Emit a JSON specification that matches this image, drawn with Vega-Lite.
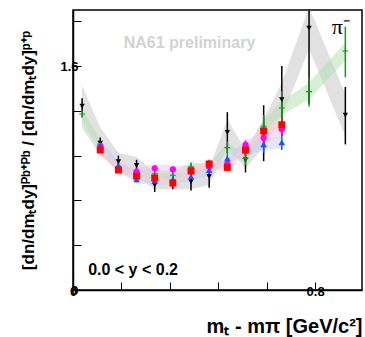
{
 "$schema": "https://vega.github.io/schema/vega-lite/v6.json",
 "width": 289, "height": 280,
 "autosize": "none",
 "padding": {"left": 73, "top": 10, "right": 3, "bottom": 47},
 "background": "white",
 "config": {"view": {"stroke": "black", "strokeWidth": 1.5}, "font": "Liberation Sans"},
 "data": {"values": [
  {"E":"20 AGeV/c","x":0.03,"y":1.314,"lo":1.27,"hi":1.37,"slo":1.16,"shi":1.46},
  {"E":"20 AGeV/c","x":0.09,"y":1.05,"lo":1.02,"hi":1.09,"slo":0.96,"shi":1.16},
  {"E":"20 AGeV/c","x":0.15,"y":0.917,"lo":0.88,"hi":0.96,"slo":0.86,"shi":0.98},
  {"E":"20 AGeV/c","x":0.21,"y":0.89,"lo":0.85,"hi":0.93,"slo":0.81,"shi":0.95},
  {"E":"20 AGeV/c","x":0.27,"y":0.75,"lo":0.70,"hi":0.80,"slo":0.72,"shi":0.84},
  {"E":"20 AGeV/c","x":0.33,"y":0.77,"lo":0.72,"hi":0.82,"slo":0.72,"shi":0.84},
  {"E":"20 AGeV/c","x":0.39,"y":0.774,"lo":0.71,"hi":0.83,"slo":0.72,"shi":0.84},
  {"E":"20 AGeV/c","x":0.45,"y":0.81,"lo":0.73,"hi":0.89,"slo":0.75,"shi":0.87},
  {"E":"20 AGeV/c","x":0.51,"y":1.126,"lo":0.98,"hi":1.27,"slo":1.02,"shi":1.22},
  {"E":"20 AGeV/c","x":0.57,"y":0.93,"lo":0.84,"hi":1.03,"slo":0.87,"shi":1.00},
  {"E":"20 AGeV/c","x":0.63,"y":1.12,"lo":0.92,"hi":1.32,"slo":1.02,"shi":1.22},
  {"E":"20 AGeV/c","x":0.69,"y":1.36,"lo":1.10,"hi":1.60,"slo":1.24,"shi":1.48},
  {"E":"20 AGeV/c","x":0.78,"y":1.87,"lo":1.33,"hi":2.40,"slo":1.72,"shi":2.02},
  {"E":"20 AGeV/c","x":0.90,"y":1.25,"lo":1.04,"hi":1.45,"slo":1.10,"shi":1.40},
  {"E":"31 AGeV/c","x":0.03,"y":1.257,"lo":1.23,"hi":1.28,"slo":1.21,"shi":1.30},
  {"E":"31 AGeV/c","x":0.09,"y":1.03,"lo":1.00,"hi":1.06,"slo":0.99,"shi":1.07},
  {"E":"31 AGeV/c","x":0.15,"y":0.87,"lo":0.85,"hi":0.89,"slo":0.84,"shi":0.90},
  {"E":"31 AGeV/c","x":0.21,"y":0.83,"lo":0.81,"hi":0.85,"slo":0.80,"shi":0.86},
  {"E":"31 AGeV/c","x":0.27,"y":0.83,"lo":0.81,"hi":0.85,"slo":0.80,"shi":0.86},
  {"E":"31 AGeV/c","x":0.33,"y":0.82,"lo":0.80,"hi":0.85,"slo":0.79,"shi":0.85},
  {"E":"31 AGeV/c","x":0.39,"y":0.88,"lo":0.86,"hi":0.91,"slo":0.85,"shi":0.91},
  {"E":"31 AGeV/c","x":0.45,"y":0.87,"lo":0.84,"hi":0.90,"slo":0.84,"shi":0.90},
  {"E":"31 AGeV/c","x":0.51,"y":1.017,"lo":0.97,"hi":1.06,"slo":0.98,"shi":1.05},
  {"E":"31 AGeV/c","x":0.57,"y":0.94,"lo":0.89,"hi":0.99,"slo":0.91,"shi":0.97},
  {"E":"31 AGeV/c","x":0.63,"y":1.17,"lo":1.08,"hi":1.25,"slo":1.13,"shi":1.21},
  {"E":"31 AGeV/c","x":0.69,"y":1.30,"lo":1.20,"hi":1.42,"slo":1.25,"shi":1.35},
  {"E":"31 AGeV/c","x":0.78,"y":1.417,"lo":1.31,"hi":1.52,"slo":1.36,"shi":1.48},
  {"E":"31 AGeV/c","x":0.90,"y":1.707,"lo":1.52,"hi":1.88,"slo":1.64,"shi":1.77},
  {"E":"40 AGeV/c","x":0.09,"y":1.03,"lo":1.01,"hi":1.05,"slo":0.99,"shi":1.07},
  {"E":"40 AGeV/c","x":0.15,"y":0.87,"lo":0.85,"hi":0.89,"slo":0.84,"shi":0.90},
  {"E":"40 AGeV/c","x":0.21,"y":0.845,"lo":0.82,"hi":0.87,"slo":0.81,"shi":0.88},
  {"E":"40 AGeV/c","x":0.27,"y":0.869,"lo":0.85,"hi":0.89,"slo":0.84,"shi":0.90},
  {"E":"40 AGeV/c","x":0.33,"y":0.862,"lo":0.84,"hi":0.88,"slo":0.83,"shi":0.89},
  {"E":"40 AGeV/c","x":0.39,"y":0.86,"lo":0.84,"hi":0.88,"slo":0.83,"shi":0.89},
  {"E":"40 AGeV/c","x":0.45,"y":0.88,"lo":0.86,"hi":0.90,"slo":0.85,"shi":0.91},
  {"E":"40 AGeV/c","x":0.51,"y":0.90,"lo":0.87,"hi":0.93,"slo":0.87,"shi":0.93},
  {"E":"40 AGeV/c","x":0.57,"y":1.036,"lo":1.00,"hi":1.07,"slo":1.00,"shi":1.07},
  {"E":"40 AGeV/c","x":0.63,"y":1.088,"lo":1.05,"hi":1.13,"slo":1.05,"shi":1.13},
  {"E":"40 AGeV/c","x":0.69,"y":1.148,"lo":1.10,"hi":1.20,"slo":1.10,"shi":1.19},
  {"E":"80 AGeV/c","x":0.09,"y":1.03,"lo":1.01,"hi":1.05,"slo":0.99,"shi":1.07},
  {"E":"80 AGeV/c","x":0.15,"y":0.886,"lo":0.87,"hi":0.91,"slo":0.85,"shi":0.92},
  {"E":"80 AGeV/c","x":0.21,"y":0.79,"lo":0.77,"hi":0.81,"slo":0.76,"shi":0.82},
  {"E":"80 AGeV/c","x":0.27,"y":0.78,"lo":0.76,"hi":0.80,"slo":0.75,"shi":0.81},
  {"E":"80 AGeV/c","x":0.33,"y":0.79,"lo":0.77,"hi":0.81,"slo":0.76,"shi":0.82},
  {"E":"80 AGeV/c","x":0.39,"y":0.81,"lo":0.79,"hi":0.83,"slo":0.78,"shi":0.84},
  {"E":"80 AGeV/c","x":0.45,"y":0.857,"lo":0.83,"hi":0.88,"slo":0.82,"shi":0.89},
  {"E":"80 AGeV/c","x":0.51,"y":0.94,"lo":0.91,"hi":0.97,"slo":0.90,"shi":0.98},
  {"E":"80 AGeV/c","x":0.57,"y":1.0,"lo":0.96,"hi":1.04,"slo":0.96,"shi":1.04},
  {"E":"80 AGeV/c","x":0.63,"y":1.04,"lo":0.98,"hi":1.09,"slo":1.00,"shi":1.08},
  {"E":"80 AGeV/c","x":0.69,"y":1.055,"lo":1.00,"hi":1.11,"slo":1.01,"shi":1.10},
  {"E":"158 AGeV/c","x":0.09,"y":1.0,"lo":0.98,"hi":1.02,"slo":0.97,"shi":1.03},
  {"E":"158 AGeV/c","x":0.15,"y":0.857,"lo":0.84,"hi":0.88,"slo":0.83,"shi":0.89},
  {"E":"158 AGeV/c","x":0.21,"y":0.814,"lo":0.79,"hi":0.84,"slo":0.79,"shi":0.84},
  {"E":"158 AGeV/c","x":0.27,"y":0.80,"lo":0.78,"hi":0.82,"slo":0.77,"shi":0.83},
  {"E":"158 AGeV/c","x":0.33,"y":0.764,"lo":0.74,"hi":0.79,"slo":0.74,"shi":0.79},
  {"E":"158 AGeV/c","x":0.39,"y":0.85,"lo":0.83,"hi":0.87,"slo":0.82,"shi":0.88},
  {"E":"158 AGeV/c","x":0.45,"y":0.90,"lo":0.87,"hi":0.93,"slo":0.87,"shi":0.93},
  {"E":"158 AGeV/c","x":0.51,"y":0.876,"lo":0.85,"hi":0.91,"slo":0.84,"shi":0.91},
  {"E":"158 AGeV/c","x":0.57,"y":1.0,"lo":0.97,"hi":1.03,"slo":0.97,"shi":1.03},
  {"E":"158 AGeV/c","x":0.63,"y":1.136,"lo":1.10,"hi":1.18,"slo":1.10,"shi":1.17},
  {"E":"158 AGeV/c","x":0.69,"y":1.18,"lo":1.14,"hi":1.23,"slo":1.14,"shi":1.22}
 ]},
 "layer": [
  {"mark": {"type": "area", "clip": true, "opacity": 0.5, "interpolate": "linear"},
   "encoding": {
    "x": {"field": "x", "type": "quantitative",
      "scale": {"domain": [0, 0.955], "nice": false, "zero": false},
      "axis": {
        "title": "mₜ - mπ [GeV/c²]",
        "values": [0,0.02,0.04,0.06,0.08,0.1,0.12,0.14,0.16,0.18,0.2,0.22,0.24,0.26,0.28,0.3,0.32,0.34,0.36,0.38,0.4,0.42,0.44,0.46,0.48,0.5,0.52,0.54,0.56,0.58,0.6,0.62,0.64,0.66,0.68,0.7,0.72,0.74,0.76,0.78,0.8,0.82,0.84,0.86,0.88,0.9,0.92,0.94],
        "labelExpr": "abs(datum.value*10-round(datum.value*10))<0.001 ? format(datum.value,'.1~f') : ''",
        "tickSize": -8,
        "encode": {"ticks": {"update": {"y2": {"signal": "abs(datum.value*10-round(datum.value*10))<0.001 ? -8 : -4"}}}},
        "tickColor": "black", "tickWidth": 1, "domainColor": "black", "domainWidth": 1.5, "grid": false,
        "labelFont": "Liberation Sans", "labelFontWeight": "bold", "labelFontSize": 13, "labelColor": "black",
        "labelPadding": 3, "labelOverlap": false, "labelFlush": false,
        "titleFont": "Liberation Sans", "titleFontWeight": "bold", "titleFontSize": 20, "titleColor": "black",
        "titleX": 289, "titleY": 42, "titleAlign": "right", "titleBaseline": "alphabetic", "titleAnchor": "end"
      }},
    "y": {"field": "slo", "type": "quantitative", "stack": null,
      "scale": {"domain": [0, 2], "nice": false, "zero": false},
      "axis": {
        "title": "[dn/dmₜdy]ᴾᵇ⁺ᴾᵇ / [dn/dmₜdy]ᵖ⁺ᵖ",
        "values": [0,0.04,0.08,0.12,0.16,0.2,0.24,0.28,0.32,0.36,0.4,0.44,0.48,0.52,0.56,0.6,0.64,0.68,0.72,0.76,0.8,0.84,0.88,0.92,0.96,1,1.04,1.08,1.12,1.16,1.2,1.24,1.28,1.32,1.36,1.4,1.44,1.48,1.52,1.56,1.6,1.64,1.68,1.72,1.76,1.8,1.84,1.88,1.92,1.96,2],
        "labelExpr": "abs(datum.value*5-round(datum.value*5))<0.001 ? format(datum.value,'.1~f') : ''",
        "tickSize": -8,
        "encode": {"ticks": {"update": {"x2": {"signal": "abs(datum.value*5-round(datum.value*5))<0.001 ? 8 : 4"}}}},
        "tickColor": "black", "tickWidth": 1, "domainColor": "black", "domainWidth": 1.5, "grid": false,
        "labelFont": "Liberation Sans", "labelFontWeight": "bold", "labelFontSize": 13, "labelColor": "black",
        "labelPadding": 3, "labelOverlap": false, "labelFlush": false,
        "titleFont": "Liberation Sans", "titleFontWeight": "bold", "titleFontSize": 17, "titleColor": "black",
        "titleX": -45, "titleY": 140, "titleAngle": 270, "titleAlign": "center", "titleBaseline": "middle"
      }},
    "y2": {"field": "shi"},
    "fill": {"field": "E", "type": "nominal",
      "scale": {"domain": ["20 AGeV/c","31 AGeV/c","40 AGeV/c","80 AGeV/c","158 AGeV/c"],
                "range": ["#c4c4c4","#b0e0b0","#f8c4f0","#c4cef8","#f8d0d0"]},
      "legend": null}
   }},
  {"mark": {"type": "rule", "clip": true, "strokeWidth": 1.5},
   "encoding": {
    "x": {"field": "x", "type": "quantitative"},
    "y": {"field": "lo", "type": "quantitative"},
    "y2": {"field": "hi"},
    "color": {"field": "E", "type": "nominal",
      "scale": {"domain": ["20 AGeV/c","31 AGeV/c","40 AGeV/c","80 AGeV/c","158 AGeV/c"],
                "range": ["#000000","#139913","#ff00ff","#2050ff","#ff0000"]},
      "legend": null}
   }},
  {"mark": {"type": "point", "filled": true, "opacity": 1},
   "encoding": {
    "x": {"field": "x", "type": "quantitative"},
    "y": {"field": "y", "type": "quantitative"},
    "color": {"field": "E", "type": "nominal",
      "scale": {"domain": ["20 AGeV/c","31 AGeV/c","40 AGeV/c","80 AGeV/c","158 AGeV/c"],
                "range": ["#000000","#139913","#ff00ff","#2050ff","#ff0000"]},
      "legend": {"title": null, "orient": "none", "legendX": 196, "legendY": 156,
        "labelFont": "Liberation Sans", "labelFontWeight": "bold", "labelFontSize": 12, "labelOffset": 11,
        "rowPadding": 12, "padding": 0,
        "encode": {"labels": {"update": {"fill": {"signal": "scale('color', datum.value)"}}}}}},
    "shape": {"field": "E", "type": "nominal",
      "scale": {"domain": ["20 AGeV/c","31 AGeV/c","40 AGeV/c","80 AGeV/c","158 AGeV/c"],
                "range": ["triangle-down","M-1,-0.18H1V0.18H-1Z M-0.18,-1H0.18V1H-0.18Z","circle","triangle-up","square"]}},
    "size": {"field": "E", "type": "nominal",
      "scale": {"domain": ["20 AGeV/c","31 AGeV/c","40 AGeV/c","80 AGeV/c","158 AGeV/c"],
                "range": [30, 49, 22, 25, 36]}}
   }},
  {"data": {"values": [{}]},
   "mark": {"type": "text", "text": "NA61 preliminary", "font": "Liberation Sans", "fontWeight": "bold", "fontSize": 16, "color": "#d2d2d2", "align": "center", "baseline": "middle"},
   "encoding": {"x": {"datum": 0.385, "type": "quantitative"}, "y": {"datum": 1.766, "type": "quantitative"}}},
  {"data": {"values": [{}]},
   "mark": {"type": "text", "text": "π⁻", "font": "Liberation Serif", "fontSize": 22, "color": "black", "align": "center", "baseline": "middle"},
   "encoding": {"x": {"datum": 0.885, "type": "quantitative"}, "y": {"datum": 1.88, "type": "quantitative"}}},
  {"data": {"values": [{}]},
   "mark": {"type": "text", "text": "0.0 < y < 0.2", "font": "Liberation Sans", "fontWeight": "bold", "fontSize": 16, "color": "black", "align": "left", "baseline": "middle"},
   "encoding": {"x": {"datum": 0.05, "type": "quantitative"}, "y": {"datum": 0.143, "type": "quantitative"}}}
 ]
}
